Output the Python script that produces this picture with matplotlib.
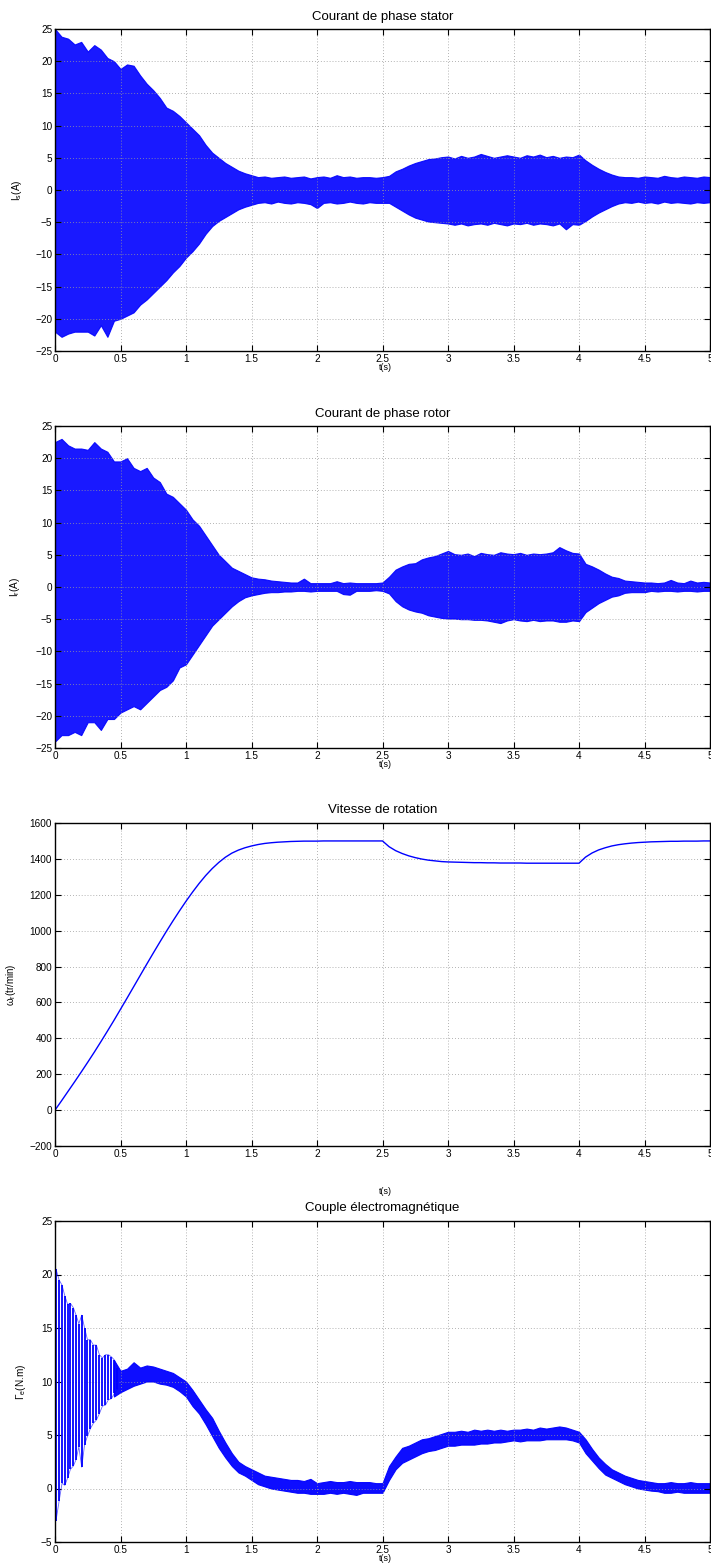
import matplotlib
matplotlib.use("Agg")
import matplotlib.pyplot as plt
import numpy as np

plt.rcParams['font.family'] = ['Liberation Sans', 'DejaVu Sans']
plt.rcParams['mathtext.fontset'] = 'custom'
plt.rcParams['mathtext.rm'] = 'Liberation Sans'
plt.rcParams['mathtext.it'] = 'Liberation Sans'

# time grid of the envelope readings (s)
t = np.arange(101) * 0.05

# stator current envelope (A)
is_upper = [25.0, 23.8, 23.5, 22.6, 23.0, 21.5, 22.5, 21.8, 20.5, 20.0,
            18.8, 19.5, 19.3, 17.8, 16.5, 15.5, 14.3, 12.8, 12.3, 11.5,
            10.5, 9.5, 8.5, 7.0, 5.8, 5.0, 4.2, 3.6, 3.0, 2.6,
            2.3, 2.0, 2.1, 1.9, 2.0, 2.1, 1.9, 2.0, 2.1, 1.8,
            2.0, 2.1, 1.9, 2.3, 2.0, 2.1, 1.9, 2.0, 2.0, 1.9,
            2.0, 2.2, 2.9, 3.3, 3.8, 4.2, 4.5, 4.8, 4.9, 5.1,
            5.2, 4.9, 5.3, 5.0, 5.2, 5.6, 5.3, 5.0, 5.2, 5.4,
            5.2, 5.0, 5.4, 5.2, 5.5, 5.1, 5.3, 5.0, 5.2, 5.1,
            5.5, 4.6, 3.9, 3.3, 2.8, 2.4, 2.1, 2.0, 2.0, 1.9,
            2.1, 2.0, 1.9, 2.2, 2.0, 1.9, 2.1, 2.0, 1.9, 2.1,
            2.0]
is_lower = [-22.0, -22.8, -22.3, -22.0, -22.0, -22.0, -22.6, -21.0, -22.8, -20.3,
            -20.0, -19.5, -19.0, -17.8, -17.0, -16.0, -15.0, -14.0, -12.8, -11.8,
            -10.5, -9.5, -8.3, -6.8, -5.6, -4.8, -4.2, -3.6, -3.0, -2.6,
            -2.3, -2.0, -1.9, -2.1, -1.8, -2.0, -2.1, -1.9, -2.0, -2.2,
            -2.8, -2.0, -1.9, -2.1, -2.0, -1.8, -2.0, -2.1, -1.9, -2.0,
            -2.0, -2.0, -2.6, -3.2, -3.8, -4.3, -4.6, -4.9, -5.0, -5.1,
            -5.2, -5.4, -5.2, -5.5, -5.3, -5.2, -5.4, -5.1, -5.3, -5.5,
            -5.2, -5.3, -5.1, -5.4, -5.2, -5.3, -5.5, -5.2, -6.1, -5.3,
            -5.4, -4.8, -4.1, -3.5, -3.0, -2.5, -2.1, -1.9, -2.0, -1.8,
            -2.0, -1.9, -2.1, -1.8, -2.0, -1.9, -2.0, -2.1, -1.9, -2.0,
            -1.9]

# rotor current envelope (A)
ir_upper = [22.5, 23.0, 22.0, 21.5, 21.5, 21.3, 22.5, 21.5, 21.0, 19.5,
            19.5, 20.0, 18.5, 18.0, 18.5, 17.0, 16.3, 14.5, 14.0, 13.0,
            12.0, 10.5, 9.5, 8.0, 6.5, 5.0, 4.0, 3.0, 2.5, 2.0,
            1.5, 1.3, 1.2, 1.0, 0.9, 0.8, 0.7, 0.7, 1.3, 0.6,
            0.6, 0.6, 0.6, 0.9, 0.6, 0.7, 0.6, 0.6, 0.6, 0.6,
            0.7, 1.6, 2.7, 3.2, 3.6, 3.7, 4.3, 4.6, 4.8, 5.2,
            5.6, 5.1, 5.0, 5.2, 4.8, 5.3, 5.1, 5.0, 5.4, 5.2,
            5.1, 5.3, 5.0, 5.2, 5.1, 5.2, 5.4, 6.2, 5.7, 5.3,
            5.2, 3.6, 3.2, 2.7, 2.1, 1.6, 1.4, 1.0, 0.9, 0.8,
            0.7, 0.7, 0.6, 0.7, 1.1, 0.7, 0.6, 1.0, 0.7, 0.8,
            0.7]
ir_lower = [-24.0, -23.0, -23.0, -22.5, -23.0, -21.0, -21.0, -22.2, -20.5, -20.5,
            -19.5, -19.0, -18.5, -19.0, -18.0, -17.0, -16.0, -15.5, -14.5, -12.5,
            -12.0, -10.5, -9.0, -7.5, -6.0, -5.0, -4.0, -3.0, -2.2, -1.6,
            -1.3, -1.1, -0.9, -0.8, -0.8, -0.7, -0.7, -0.6, -0.6, -0.7,
            -0.6, -0.6, -0.6, -0.6, -1.1, -1.2, -0.6, -0.6, -0.6, -0.5,
            -0.6, -1.0, -2.2, -3.0, -3.5, -3.8, -4.0, -4.4, -4.6, -4.8,
            -4.9, -4.9, -5.0, -5.0, -5.1, -5.1, -5.2, -5.4, -5.6, -5.2,
            -5.0, -5.2, -5.3, -5.1, -5.3, -5.2, -5.2, -5.4, -5.4, -5.2,
            -5.3, -3.9, -3.2, -2.5, -2.0, -1.5, -1.3, -0.9, -0.8, -0.8,
            -0.8, -0.6, -0.7, -0.6, -0.6, -0.7, -0.6, -0.6, -0.7, -0.6,
            -0.6]

# rotor speed (tr/min)
speed = [0, 52, 105, 158, 212, 267, 323, 381, 440, 500,
         562, 624, 687, 750, 813, 875, 936, 996, 1054, 1110,
         1164, 1215, 1263, 1307, 1346, 1380, 1409, 1432, 1449, 1462,
         1472, 1480, 1486, 1490, 1493, 1495, 1497, 1498, 1499, 1499,
         1499, 1500, 1500, 1500, 1500, 1500, 1500, 1500, 1500, 1500,
         1500, 1468, 1446, 1430, 1417, 1407, 1399, 1393, 1389, 1385,
         1383, 1382, 1381, 1380, 1379, 1379, 1378, 1378, 1377, 1377,
         1377, 1377, 1376, 1376, 1376, 1376, 1376, 1376, 1376, 1376,
         1376, 1410, 1433, 1450, 1462, 1472, 1479, 1484, 1488, 1491,
         1493, 1495, 1496, 1497, 1498, 1498, 1499, 1499, 1499, 1500,
         1500]

# electromagnetic torque: start-up ripple strokes (N.m)
ce_stroke_t = [0.008, 0.031, 0.054, 0.075, 0.097, 0.118, 0.140, 0.161, 0.182, 0.204,
               0.226, 0.248, 0.270, 0.293, 0.316, 0.339, 0.362, 0.385, 0.408, 0.431,
               0.454, 0.477]
ce_stroke_hi = [20.5, 19.5, 19.0, 18.0, 17.2, 17.3, 16.9, 16.2, 15.4, 16.2,
                15.0, 13.9, 13.9, 13.4, 13.4, 12.5, 12.2, 12.5, 12.5, 12.3,
                12.0, 11.3]
ce_stroke_lo = [-3.0, -1.2, 0.5, 0.3, 1.0, 1.8, 2.1, 2.7, 3.9, 2.0,
                4.1, 4.9, 5.6, 6.1, 6.4, 7.0, 7.7, 7.8, 8.3, 8.4,
                8.9, 9.3]
# torque band envelope from 0.45 s onwards
ce_upper = [12.0, 11.0, 11.2, 11.8, 11.3, 11.5, 11.4, 11.2, 11.0, 10.8, 10.4,
            10.0, 9.2, 8.3, 7.4, 6.6, 5.4, 4.3, 3.3, 2.5, 2.1,
            1.8, 1.5, 1.2, 1.1, 1.0, 0.9, 0.8, 0.8, 0.7, 0.9,
            0.5, 0.6, 0.7, 0.6, 0.6, 0.7, 0.6, 0.6, 0.6, 0.5,
            0.5, 2.1, 3.0, 3.8, 4.0, 4.3, 4.6, 4.7, 4.9, 5.1,
            5.3, 5.3, 5.4, 5.3, 5.5, 5.4, 5.5, 5.4, 5.5, 5.4,
            5.5, 5.5, 5.6, 5.5, 5.7, 5.6, 5.7, 5.8, 5.7, 5.5,
            5.3, 4.6, 3.7, 2.9, 2.3, 1.8, 1.5, 1.2, 1.0, 0.8,
            0.7, 0.6, 0.5, 0.5, 0.6, 0.5, 0.5, 0.6, 0.5, 0.5,
            0.5]
ce_lower = [8.6, 9.0, 9.3, 9.6, 9.8, 10.0, 10.0, 9.8, 9.7, 9.5, 9.1,
            8.6, 7.7, 7.0, 6.0, 4.9, 3.8, 2.9, 2.1, 1.5, 1.2,
            0.8, 0.4, 0.2, 0.0, -0.1, -0.2, -0.3, -0.4, -0.4, -0.5,
            -0.5, -0.5, -0.4, -0.5, -0.4, -0.5, -0.6, -0.4, -0.4, -0.4,
            -0.4, 0.8, 1.8, 2.4, 2.7, 3.0, 3.3, 3.5, 3.6, 3.8,
            4.0, 4.0, 4.1, 4.1, 4.1, 4.2, 4.2, 4.3, 4.3, 4.4,
            4.5, 4.4, 4.5, 4.5, 4.5, 4.6, 4.6, 4.6, 4.6, 4.5,
            4.3, 3.3, 2.6, 1.9, 1.3, 1.0, 0.7, 0.4, 0.2, 0.0,
            -0.1, -0.2, -0.25, -0.4, -0.4, -0.3, -0.4, -0.4, -0.4, -0.4,
            -0.4]

xticks = np.arange(11) * 0.5
xticklabels = ['0', '0.5', '1', '1.5', '2', '2.5', '3', '3.5', '4', '4.5', '5']

W, H = 711, 1568
fig = plt.figure(figsize=(W / 100, H / 100), dpi=100)
blue = '#0000ff'


def make_axes(top, bottom):
    left, right = 55, 710
    ax = fig.add_axes([left / W, 1 - bottom / H, (right - left) / W, (bottom - top) / H])
    ax.set_xlim(0, 5)
    ax.set_xticks(xticks)
    ax.set_xticklabels(xticklabels)
    ax.tick_params(direction='in', top=True, right=True, length=4, width=0.8,
                   labelsize=7.2, pad=2, colors='black')
    ax.grid(True, linestyle=(0, (1, 2.5)), color='#9a9a9a', linewidth=0.6)
    for sp in ax.spines.values():
        sp.set_linewidth(1.0)
    return ax


# stator current
ax1 = make_axes(29, 351)
ax1.fill_between(t, is_lower, is_upper, color=blue, alpha=0.9, linewidth=0.8, edgecolor=blue)
ax1.set_ylim(-25, 25)
ax1.set_yticks(np.arange(-25, 26, 5))
ax1.text(0.5, 1 + 12 / 322, 'Courant de phase stator', transform=ax1.transAxes,
         ha='center', va='center', fontsize=9.5)
ax1.set_xlabel('t(s)', fontsize=6.5)
ax1.xaxis.set_label_coords(0.505, -0.036)
ax1.set_ylabel(r'I$_s$(A)', fontsize=7.2)
ax1.yaxis.set_label_coords(-0.047, 0.5)

# rotor current
ax2 = make_axes(426, 748)
ax2.fill_between(t, ir_lower, ir_upper, color=blue, alpha=0.9, linewidth=0.8, edgecolor=blue)
ax2.set_ylim(-25, 25)
ax2.set_yticks(np.arange(-25, 26, 5))
ax2.text(0.5, 1 + 12 / 322, 'Courant de phase rotor', transform=ax2.transAxes,
         ha='center', va='center', fontsize=9.5)
ax2.set_xlabel('t(s)', fontsize=6.5)
ax2.xaxis.set_label_coords(0.505, -0.038)
ax2.set_ylabel(r'I$_r$(A)', fontsize=7.2)
ax2.yaxis.set_label_coords(-0.05, 0.5)

# speed
ax3 = make_axes(823, 1146)
ax3.plot(t, speed, color=blue, linewidth=1.0)
ax3.set_ylim(-200, 1600)
ax3.set_yticks(np.arange(-200, 1601, 200))
ax3.text(0.5, 1 + 13 / 322, 'Vitesse de rotation', transform=ax3.transAxes,
         ha='center', va='center', fontsize=9.5)
ax3.set_xlabel('t(s)', fontsize=6.5)
ax3.xaxis.set_label_coords(0.505, -0.127)
ax3.set_ylabel(r'$\omega_r$(tr/min)', fontsize=7)
ax3.yaxis.set_label_coords(-0.057, 0.5)

# torque
ax4 = make_axes(1221, 1542)
ax4.vlines(ce_stroke_t, ce_stroke_lo, ce_stroke_hi, color=blue, linewidth=1.3)
ax4.plot([0] + ce_stroke_t, [0] + ce_stroke_lo, color=blue, linewidth=0.6, alpha=0.6)
ax4.plot([0] + ce_stroke_t, [20.5] + ce_stroke_hi, color=blue, linewidth=0.6, alpha=0.6)
ax4.fill_between(t[9:], ce_lower, ce_upper, color=blue, alpha=0.95, linewidth=0.8, edgecolor=blue)
ax4.set_ylim(-5, 25)
ax4.set_yticks(np.arange(-5, 26, 5))
ax4.text(0.5, 1 + 13 / 322, 'Couple électromagnétique', transform=ax4.transAxes,
         ha='center', va='center', fontsize=9.5)
ax4.set_xlabel('t(s)', fontsize=6.5)
ax4.xaxis.set_label_coords(0.505, -0.038)
ax4.set_ylabel(r'$\Gamma_e$(N.m)', fontsize=7.2)
ax4.yaxis.set_label_coords(-0.041, 0.5)

fig.savefig('out.png', dpi=100)
